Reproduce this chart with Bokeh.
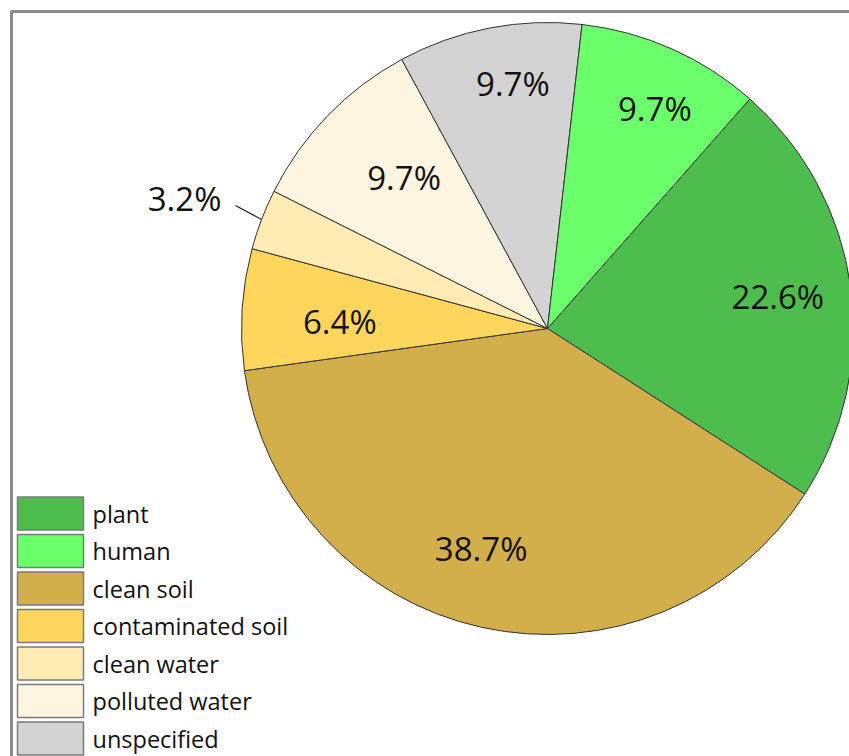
import math
from bokeh.plotting import figure
from bokeh.models import ColumnDataSource, Range1d
from bokeh.core.properties import value
from bokeh.embed import file_html
from bokeh.resources import INLINE

# Share of samples by source (legend order)
categories = ["plant", "human", "clean soil", "contaminated soil",
              "clean water", "polluted water", "unspecified"]
percent = [22.6, 9.7, 38.7, 6.4, 3.2, 9.7, 9.7]
colors = ["#4dbd4d", "#6bff6b", "#d2af4b", "#ffd65c",
          "#ffebb4", "#fff6e2", "#d3d3d3"]

# order in which slices are laid out clockwise around the pie
draw_order = ["plant", "clean soil", "contaminated soil", "clean water",
              "polluted water", "unspecified", "human"]

# Layout (pixel-like data units)
W, H = 849, 756
CX, CY, R = 547, 328, 306          # pie centre (from top) and radius
START_DEG = 48.6                   # first slice starts here, running clockwise
label_frac = {"plant": 0.76, "human": 0.80, "clean soil": 0.75,
              "contaminated soil": 0.68, "clean water": 0.0,
              "polluted water": 0.68, "unspecified": 0.80}
# small pixel nudges (dx right, dy down) for the in-slice labels
label_nudge = {"plant": (0, 0), "human": (8, 4), "clean soil": (-17, -4),
               "contaminated soil": (0, 6), "clean water": (0, 0),
               "polluted water": (6, -6), "unspecified": (12, -5)}
FONT = value("Open Sans")


def Y(py):
    return H - py


p = figure(width=W, height=H, x_range=Range1d(0, W), y_range=Range1d(0, H),
           output_backend="svg", toolbar_location=None, min_border=0,
           x_axis_location=None, y_axis_location=None)
p.grid.visible = False
p.outline_line_color = None
p.background_fill_color = "white"
p.border_fill_color = "white"

# frame around the chart
p.quad(left=[11], right=[W + 30], top=[Y(11)], bottom=[-30],
       fill_color=None, line_color="#8a8a8a", line_width=3)

# wedges
lookup = {c: (v, col) for c, v, col in zip(categories, percent, colors)}
cats, vals, cols, starts, ends, mids = [], [], [], [], [], []
cum = 0.0
for c in draw_order:
    v, col = lookup[c]
    a_end = START_DEG - cum * 3.6
    cum += v
    a_start = START_DEG - cum * 3.6
    cats.append(c)
    vals.append(v)
    cols.append(col)
    starts.append(math.radians(a_start))
    ends.append(math.radians(a_end))
    mids.append(math.radians((a_start + a_end) / 2))

src = ColumnDataSource(dict(cat=cats, pct=vals, color=cols,
                            start=starts, end=ends))
p.wedge(x=CX, y=Y(CY), radius=R, start_angle="start", end_angle="end",
        direction="anticlock", fill_color="color", line_color="#333333",
        line_width=1, source=src)

# percentage labels
lx, ly, lt = [], [], []
for c, v, m in zip(cats, vals, mids):
    f = label_frac[c]
    if f > 0:
        dx, dy = label_nudge[c]
        lx.append(CX + f * R * math.cos(m) + dx)
        ly.append(Y(CY) + f * R * math.sin(m) - dy)
        lt.append(f"{v:.1f}%")
p.text(x=lx, y=ly, text=lt, text_align="center", text_baseline="middle",
       text_font=FONT, text_font_size=value("33px"), text_color="#111111")

# small slice: label outside with leader line
for c, v, m in zip(cats, vals, mids):
    if label_frac[c] == 0:
        x0 = CX + R * math.cos(m)
        y0 = Y(CY) + R * math.sin(m)
        x1 = CX + (R + 28) * math.cos(m)
        y1 = Y(CY) + (R + 28) * math.sin(m) + 4
        p.line(x=[x0, x1], y=[y0, y1], line_color="#222222", line_width=1.2)
        p.text(x=[x1 - 14], y=[y1 + 7], text=[f"{v:.1f}%"], text_align="right",
               text_baseline="middle", text_font=FONT,
               text_font_size=value("33px"), text_color="#111111")

# legend
n = len(categories)
ley = [Y(513 + 37.5 * i) for i in range(n)]
p.rect(x=[50] * n, y=ley, width=66, height=33, fill_color=colors,
       line_color="#7a7a7a", line_width=1.5)
p.text(x=[92] * n, y=ley, text=categories, text_align="left",
       text_baseline="middle", text_font=FONT,
       text_font_size=value("23.5px"), text_color="#111111")

open("out.html", "w").write(file_html(p, INLINE))
